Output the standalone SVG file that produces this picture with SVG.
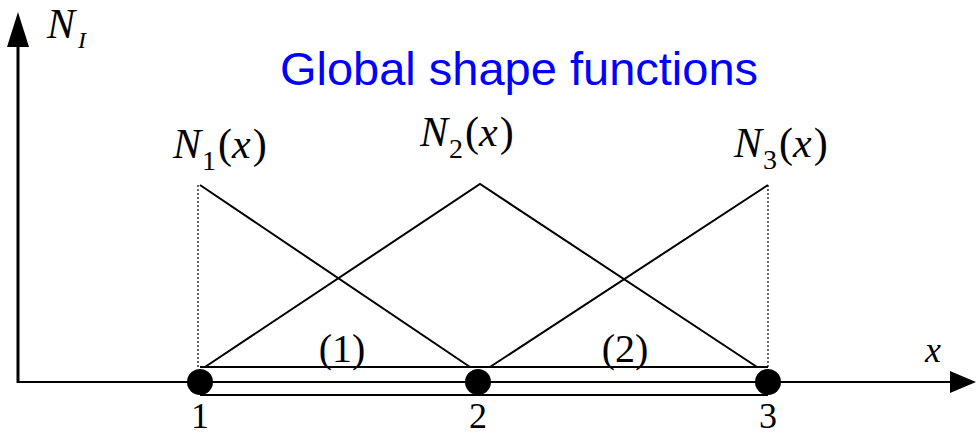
<svg xmlns="http://www.w3.org/2000/svg" width="976" height="437" viewBox="0 0 976 437">
<style>
.ln{stroke:#000;stroke-width:2;fill:none}
.dot{stroke:#000;stroke-width:1.2;stroke-dasharray:2,2;fill:none}
.m{font-family:"Liberation Serif","DejaVu Serif",serif;fill:#000}
.i{font-style:italic}
.title{font-family:"Liberation Sans",Arial,sans-serif;font-size:47px;fill:#0000FF}
</style>
<g id="axes">
<path d="M18,383 V47" class="ln" style="stroke-width:3"/>
<path d="M18,12 L29,47 L7,47 Z" fill="#000"/>
<path d="M17,382 H950" class="ln"/>
<path d="M976,382 L950,371 L950,393 Z" fill="#000"/>
</g>
<g id="connectors">
<path d="M200,367 H768 M200,395 H768" class="ln"/>
<path d="M198,185 V367 M768,185 V367" class="dot"/>
<path d="M200,185 L470,367" class="ln"/>
<path d="M205,367 L480,184 L757,367" class="ln"/>
<path d="M490,367 L768,185" class="ln"/>
</g>
<g id="node1"><circle cx="200" cy="382" r="13" fill="#000"/><text x="200" y="428" class="m" font-size="36" text-anchor="middle">1</text></g>
<g id="node2"><circle cx="478" cy="382" r="13" fill="#000"/><text x="478" y="428" class="m" font-size="36" text-anchor="middle">2</text></g>
<g id="node3"><circle cx="768" cy="382" r="13" fill="#000"/><text x="768" y="428" class="m" font-size="36" text-anchor="middle">3</text></g>
<g id="el1"><text x="342" y="362" class="m" font-size="40" text-anchor="middle">(1)</text></g>
<g id="el2"><text x="625" y="362" class="m" font-size="40" text-anchor="middle">(2)</text></g>
<g id="labels">
<text x="47" y="38" class="m i" font-size="42">N<tspan font-size="24" dy="10" dx="3">I</tspan></text>
<text x="173" y="158" class="m" font-size="42"><tspan class="i">N</tspan><tspan font-size="28" dy="12" dx="1">1</tspan><tspan dy="-12" dx="2">(</tspan><tspan class="i">x</tspan><tspan dx="2">)</tspan></text>
<text x="420" y="146" class="m" font-size="42"><tspan class="i">N</tspan><tspan font-size="28" dy="12" dx="1">2</tspan><tspan dy="-12" dx="2">(</tspan><tspan class="i">x</tspan><tspan dx="2">)</tspan></text>
<text x="734" y="157" class="m" font-size="42"><tspan class="i">N</tspan><tspan font-size="28" dy="12" dx="1">3</tspan><tspan dy="-12" dx="2">(</tspan><tspan class="i">x</tspan><tspan dx="2">)</tspan></text>
<text x="925" y="362" class="m i" font-size="36">x</text>
<text x="519" y="85" class="title" text-anchor="middle">Global shape functions</text>
</g>
</svg>
